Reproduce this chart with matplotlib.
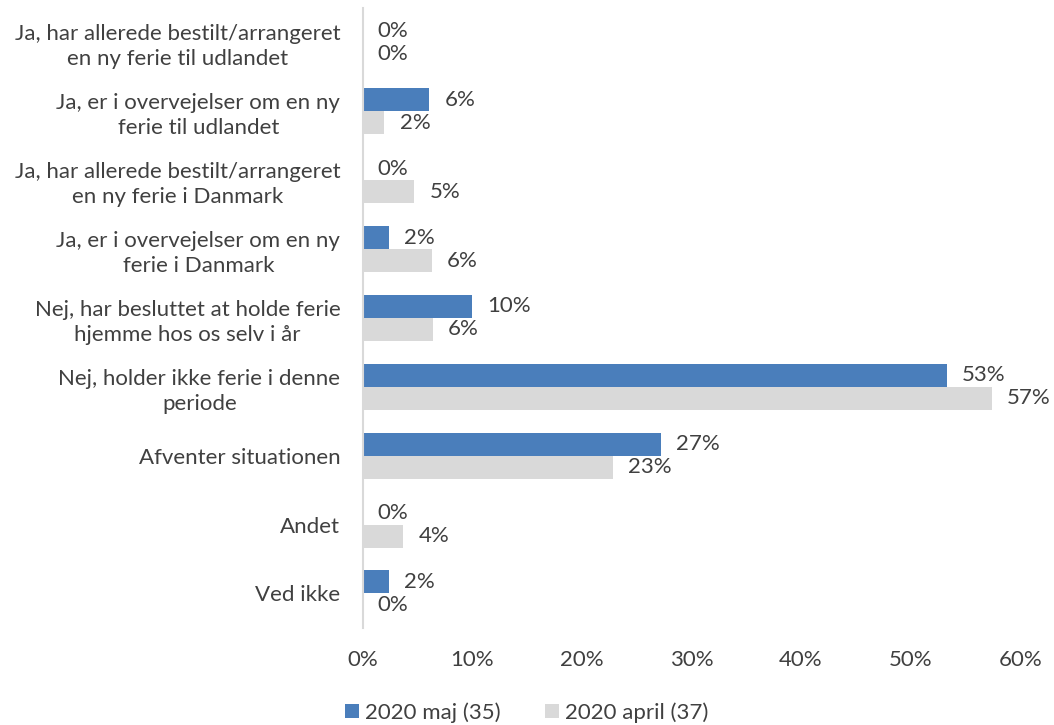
import matplotlib.pyplot as plt
import numpy as np

# Kategorier (oppefra og ned)
categories = [
    "Ja, har allerede bestilt/arrangeret\nen ny ferie til udlandet",
    "Ja, er i overvejelser om en ny\nferie til udlandet",
    "Ja, har allerede bestilt/arrangeret\nen ny ferie i Danmark",
    "Ja, er i overvejelser om en ny\nferie i Danmark",
    "Nej, har besluttet at holde ferie\nhjemme hos os selv i år",
    "Nej, holder ikke ferie i denne\nperiode",
    "Afventer situationen",
    "Andet",
    "Ved ikke",
]
maj_values = [0.0, 6.1, 0.0, 2.4, 10.0, 53.3, 27.2, 0.0, 2.4]
april_values = [0.0, 2.0, 4.7, 6.3, 6.4, 57.4, 22.8, 3.7, 0.0]
series_names = ["2020 maj (35)", "2020 april (37)"]
xticks = [0, 10, 20, 30, 40, 50, 60]

plt.rcParams['font.family'] = ['Lato', 'DejaVu Sans']
text_color = '#404040'
maj_color = '#4A7EBB'
april_color = '#D9D9D9'
fs = 16

fig = plt.figure(figsize=(10.54, 7.25), dpi=100)
ax = fig.add_axes([0.344, 0.134, 0.624, 0.855])

n = len(categories)
y = np.arange(n)
h = 0.335

bars_maj = ax.barh(y - h / 2, maj_values, height=h, color=maj_color, label=series_names[0])
bars_apr = ax.barh(y + h / 2, april_values, height=h, color=april_color, label=series_names[1])

# dataetiketter
for bars, vals in [(bars_maj, maj_values), (bars_apr, april_values)]:
    for b, v in zip(bars, vals):
        ax.annotate(f"{round(v):.0f}%", (v, b.get_y() + b.get_height() / 2),
                    xytext=(11, 0), textcoords='offset points',
                    ha='left', va='center', fontsize=fs, color=text_color)

ax.set_ylim(n - 0.5, -0.5)
ax.set_xlim(0, 60)
ax.set_yticks(y)
ax.set_yticklabels(categories, fontsize=fs, color=text_color,
                   multialignment='center', linespacing=1.3)
ax.set_xticks(xticks)
ax.set_xticklabels([f"{t}%" for t in xticks], fontsize=fs, color=text_color)
ax.tick_params(axis='both', length=0)
ax.tick_params(axis='x', pad=16)
ax.tick_params(axis='y', pad=16)

for s in ['top', 'right', 'bottom']:
    ax.spines[s].set_visible(False)
ax.spines['left'].set_color('#D9D9D9')
ax.spines['left'].set_linewidth(1.5)

fig.legend(handles=[bars_maj, bars_apr], labels=series_names, loc='lower center',
           bbox_to_anchor=(0.5, -0.025), ncol=2, frameon=False, fontsize=fs,
           handlelength=0.6, handleheight=0.6, handletextpad=0.3, columnspacing=2.0,
           labelcolor=text_color)

fig.savefig('out.png', dpi=100)
